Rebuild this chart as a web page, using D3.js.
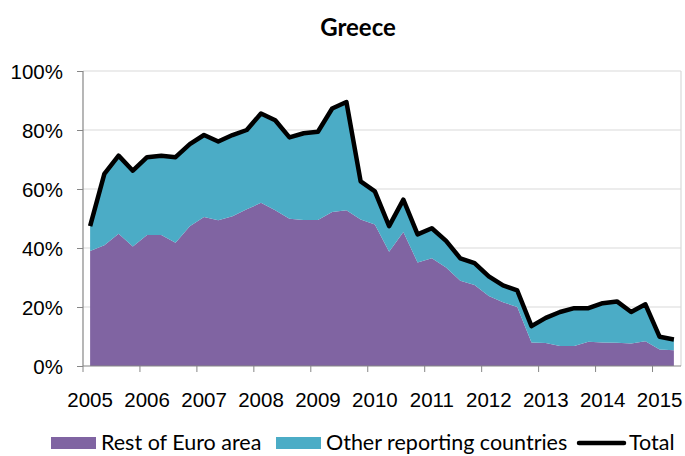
<!DOCTYPE html>
<html>
<head>
<meta charset="utf-8">
<script src="https://cdn.jsdelivr.net/npm/d3@7"></script>
<style>
  body { margin: 0; background: #fff; }
  svg { display: block; font-family: Lato, "Open Sans", sans-serif; }
  .axis text { fill: #000; font-size: 20.5px; }
  .axis .domain { display: none; }
  .axis line { stroke: #868686; }
  .legend text { font-size: 21.5px; fill: #000; }
</style>
</head>
<body>
<div id="chart"></div>
<script>
// Quarterly categories, 2005 Q1 .. 2015 Q2.
const years = ['2005', '2006', '2007', '2008', '2009', '2010', '2011', '2012', '2013', '2014', '2015'];
const quarters = ['Q1', 'Q2', 'Q3', 'Q4'];
const categories = years.flatMap(y => quarters.map(q => y + q)).slice(0, 42);

// Shares in percent.
const restOfEuro = [39.0, 40.9, 44.8, 40.5, 44.4, 44.4, 41.8, 47.4, 50.5, 49.4,
  50.8, 53.1, 55.3, 52.8, 49.9, 49.5, 49.5, 52.2, 52.8, 49.7,
  48.0, 38.7, 45.4, 35.1, 36.5, 33.4, 28.9, 27.5, 23.7, 21.6,
  20.0, 8.0, 7.8, 6.8, 6.8, 8.2, 8.0, 7.9, 7.6, 8.4,
  5.6, 5.3];
const otherReporting = [8.4, 24.2, 26.5, 25.7, 26.4, 26.9, 29.0, 27.8, 27.8, 26.7,
  27.5, 26.9, 30.3, 30.5, 27.6, 29.4, 29.9, 35.1, 36.7, 12.9,
  11.2, 8.7, 11.0, 9.5, 10.2, 9.0, 7.6, 7.4, 6.7, 5.7,
  5.6, 5.5, 8.5, 11.5, 12.8, 11.4, 13.3, 14.0, 10.7, 12.5,
  4.3, 3.7];
const total = [47.4, 65.1, 71.3, 66.2, 70.8, 71.3, 70.8, 75.2, 78.3, 76.1,
  78.3, 80.0, 85.6, 83.3, 77.5, 78.9, 79.4, 87.3, 89.5, 62.6,
  59.2, 47.4, 56.4, 44.6, 46.7, 42.4, 36.5, 34.9, 30.4, 27.3,
  25.6, 13.5, 16.3, 18.3, 19.6, 19.6, 21.3, 21.9, 18.3, 20.9,
  9.9, 9.0];
const yTicks = [0, 20, 40, 60, 80, 100];

const seriesNames = ['Rest of Euro area', 'Other reporting countries'];
const seriesColors = ['#8064A2', '#4BACC6'];

(function(){
  const width = 685, height = 456;
  const plot = {left: 83, right: 681, top: 71, bottom: 366};

  const svg = d3.select('#chart').append('svg')
    .attr('width', width)
    .attr('height', height);

  const x = d3.scaleBand().domain(categories).range([plot.left, plot.right]);
  const y = d3.scaleLinear().domain([0, 100]).range([plot.bottom, plot.top]);
  const cx = d => x(d) + x.bandwidth() / 2;

  // Title
  svg.append('text')
    .attr('x', 358).attr('y', 36)
    .attr('text-anchor', 'middle')
    .style('font-size', '24px').style('font-weight', 'bold')
    .text('Greece');

  // Gridlines plus the light right border of the plot area.
  svg.append('g').selectAll('line')
    .data(yTicks.filter(d => d > 0))
    .join('line')
    .attr('x1', plot.left).attr('x2', plot.right)
    .attr('y1', d => y(d)).attr('y2', d => y(d))
    .attr('stroke', '#d9d9d9').attr('stroke-width', 1.2);
  svg.append('line')
    .attr('x1', plot.right).attr('x2', plot.right)
    .attr('y1', plot.top).attr('y2', plot.bottom)
    .attr('stroke', '#d9d9d9').attr('stroke-width', 1.2);

  // Stacked areas
  const rows = categories.map((c, i) => ({cat: c, rest: restOfEuro[i], other: otherReporting[i]}));
  const stacked = d3.stack().keys(['rest', 'other'])(rows);
  const area = d3.area()
    .x(d => cx(d.data.cat))
    .y0(d => y(d[0]))
    .y1(d => y(d[1]));

  svg.append('g').selectAll('path')
    .data(stacked)
    .join('path')
    .attr('fill', (d, i) => seriesColors[i])
    .attr('d', area);

  // Axes
  const yAxis = svg.append('g')
    .attr('class', 'axis')
    .attr('transform', `translate(${plot.left},0)`)
    .call(d3.axisLeft(y).tickValues(yTicks).tickSize(6).tickPadding(14).tickFormat(d => d + '%'));
  yAxis.selectAll('text').attr('dy', '0.36em');

  const q1 = categories.filter(c => c.endsWith('Q1'));
  const xAxis = svg.append('g')
    .attr('class', 'axis')
    .attr('transform', `translate(0,${plot.bottom})`)
    .call(d3.axisBottom(x).tickValues(q1).tickSize(6).tickPadding(20).tickFormat(c => c.slice(0, 4)));
  // Excel-style category ticks sit between categories, labels stay centred on Q1.
  xAxis.selectAll('.tick line')
    .attr('x1', -x.bandwidth() / 2).attr('x2', -x.bandwidth() / 2);

  svg.append('line')
    .attr('x1', plot.left).attr('x2', plot.left)
    .attr('y1', plot.top).attr('y2', plot.bottom)
    .attr('stroke', '#868686').attr('stroke-width', 1.2);
  svg.append('line')
    .attr('x1', plot.left).attr('x2', plot.right)
    .attr('y1', plot.bottom).attr('y2', plot.bottom)
    .attr('stroke', '#868686').attr('stroke-width', 1.2);

  // Total line on top
  const line = d3.line()
    .x((d, i) => cx(categories[i]))
    .y(d => y(d));
  svg.append('path')
    .datum(total)
    .attr('fill', 'none')
    .attr('stroke', '#000')
    .attr('stroke-width', 4.5)
    .attr('stroke-linejoin', 'round')
    .attr('d', line);

  // Legend (kept just inside the bottom edge so descenders are not clipped)
  const legend = svg.append('g').attr('class', 'legend');
  const legendItems = [
    {name: seriesNames[0], color: seriesColors[0], x: 51, type: 'rect'},
    {name: seriesNames[1], color: seriesColors[1], x: 276, type: 'rect'},
    {name: 'Total', color: '#000', x: 579, type: 'line'}
  ];
  legendItems.forEach(item => {
    if(item.type === 'rect'){
      legend.append('rect')
        .attr('x', item.x).attr('y', 437)
        .attr('width', 45).attr('height', 12)
        .attr('fill', item.color);
    } else {
      legend.append('line')
        .attr('x1', item.x).attr('x2', item.x + 45)
        .attr('y1', 443).attr('y2', 443)
        .attr('stroke', item.color).attr('stroke-width', 4.5)
        .attr('stroke-linecap', 'round');
    }
    legend.append('text')
      .attr('x', item.x + 50).attr('y', 450)
      .text(item.name);
  });
})();
</script>
</body>
</html>
